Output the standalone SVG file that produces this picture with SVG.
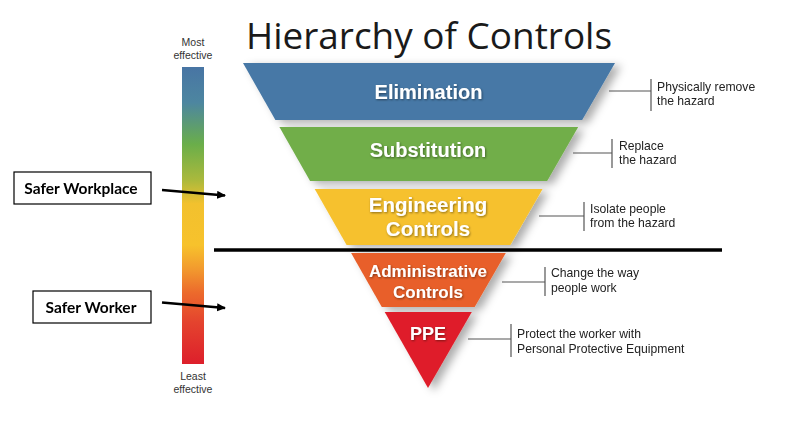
<svg xmlns="http://www.w3.org/2000/svg" width="799" height="428" viewBox="0 0 799 428">
<defs>
<linearGradient id="bar" x1="0" y1="0" x2="0" y2="1">
<stop offset="0" stop-color="#4875a4"/>
<stop offset="0.12" stop-color="#4d86a0"/>
<stop offset="0.26" stop-color="#6aae4a"/>
<stop offset="0.38" stop-color="#aab93c"/>
<stop offset="0.46" stop-color="#f2c12e"/>
<stop offset="0.6" stop-color="#f7c22c"/>
<stop offset="0.68" stop-color="#f29a2e"/>
<stop offset="0.76" stop-color="#ec6a2c"/>
<stop offset="0.86" stop-color="#e4432e"/>
<stop offset="1" stop-color="#dd1f2b"/>
</linearGradient>
<filter id="shadow" x="-10%" y="-10%" width="130%" height="130%">
<feDropShadow dx="6" dy="3" stdDeviation="4" flood-color="#000" flood-opacity="0.32"/>
</filter>
<filter id="tshadow" x="-10%" y="-20%" width="120%" height="150%">
<feDropShadow dx="0.8" dy="1" stdDeviation="0.8" flood-color="#000" flood-opacity="0.45"/>
</filter>
<marker id="arrow" markerUnits="userSpaceOnUse" markerWidth="10" markerHeight="10" refX="8" refY="4" orient="auto">
<path d="M0,0 L9,4 L0,8 z" fill="#000"/>
</marker>
<style>
.band-text{font-family:"Liberation Sans",Arial,sans-serif;font-weight:bold;fill:#fff;text-anchor:middle;filter:url(#tshadow);}
.note{font-family:"Liberation Sans",Arial,sans-serif;font-size:12.2px;fill:#222;}
.eff{font-family:"Liberation Sans",Arial,sans-serif;font-size:10.5px;fill:#333;text-anchor:middle;}
.lead{stroke:#555;stroke-width:1.2;fill:none;}
.box{fill:#fff;stroke:#000;stroke-width:1.2;}
.boxtext{font-family:Lato,"Open Sans",sans-serif;font-weight:bold;font-size:15.5px;fill:#000;text-anchor:middle;}
.arrowline{stroke:#000;stroke-width:2.5;fill:none;marker-end:url(#arrow);}
</style>
</defs>
<rect width="799" height="428" fill="#fff"/>

<g id="title">
<text x="246" y="49" font-family="'Open Sans',sans-serif" font-size="36" fill="#1a1a1a" textLength="366" lengthAdjust="spacingAndGlyphs">Hierarchy of Controls</text>
</g>

<g id="effectiveness-scale">
<text class="eff" x="193" y="46">Most</text>
<text class="eff" x="193" y="58.5">effective</text>
<rect x="182" y="67" width="22" height="297" fill="url(#bar)"/>
<text class="eff" x="193" y="380">Least</text>
<text class="eff" x="193" y="393">effective</text>
</g>

<g id="pyramid" filter="url(#shadow)">
<g id="elimination">
<polygon points="243,63 615,63 582.2,120 275.4,120" fill="#4678a6"/>
<text class="band-text" x="428.5" y="99" font-size="20">Elimination</text>
</g>
<g id="substitution">
<polygon points="279.4,127 578.2,127 547.2,181 310.1,181" fill="#71ae48"/>
<text class="band-text" x="428" y="157" font-size="20">Substitution</text>
</g>
<g id="engineering">
<polygon points="314.7,189 542.6,189 510.4,245 346.6,245" fill="#f6c12f"/>
<text class="band-text" x="428" y="212" font-size="20.5">Engineering</text>
<text class="band-text" x="428" y="236" font-size="20.5">Controls</text>
</g>
<g id="administrative">
<polygon points="351.1,253 505.8,253 474.7,307 381.8,307" fill="#e85f29"/>
<text class="band-text" x="428" y="277" font-size="17">Administrative</text>
<text class="band-text" x="428" y="298" font-size="17">Controls</text>
</g>
<g id="ppe">
<polygon points="384.7,312 471.8,312 428,388" fill="#df1f2a"/>
<text class="band-text" x="428" y="340" font-size="18">PPE</text>
</g>
</g>

<g id="divider">
<line x1="214" y1="250" x2="722" y2="250" stroke="#000" stroke-width="3.5"/>
</g>

<g id="notes">
<g id="note-elimination">
<text class="note" x="657" y="91">Physically remove</text>
<text class="note" x="657" y="105">the hazard</text>
</g>
<g id="note-substitution">
<text class="note" x="619" y="150">Replace</text>
<text class="note" x="619" y="164">the hazard</text>
</g>
<g id="note-engineering">
<text class="note" x="590" y="213">Isolate people</text>
<text class="note" x="590" y="227">from the hazard</text>
</g>
<g id="note-administrative">
<text class="note" x="551" y="277">Change the way</text>
<text class="note" x="551" y="292">people work</text>
</g>
<g id="note-ppe">
<text class="note" x="517" y="338">Protect the worker with</text>
<text class="note" x="517" y="353">Personal Protective Equipment</text>
</g>
</g>

<g id="box-safer-workplace">
<rect class="box" x="14" y="172" width="137" height="32"/>
<text class="boxtext" x="81" y="194">Safer Workplace</text>
</g>
<g id="box-safer-worker">
<rect class="box" x="33" y="291" width="118" height="32"/>
<text class="boxtext" x="91" y="313">Safer Worker</text>
</g>

<g id="connectors">
<line class="arrowline" x1="162" y1="190" x2="225" y2="195.5"/>
<line class="arrowline" x1="162" y1="302.5" x2="225" y2="308"/>
<path class="lead" d="M609,91 H651 M651,79 V111"/>
<path class="lead" d="M573,153 H612 M612,139 V168"/>
<path class="lead" d="M539,216 H584 M584,202 V231"/>
<path class="lead" d="M502,282 H545 M545,267 V296"/>
<path class="lead" d="M468,339 H511 M511,324 V357"/>
</g>
</svg>
